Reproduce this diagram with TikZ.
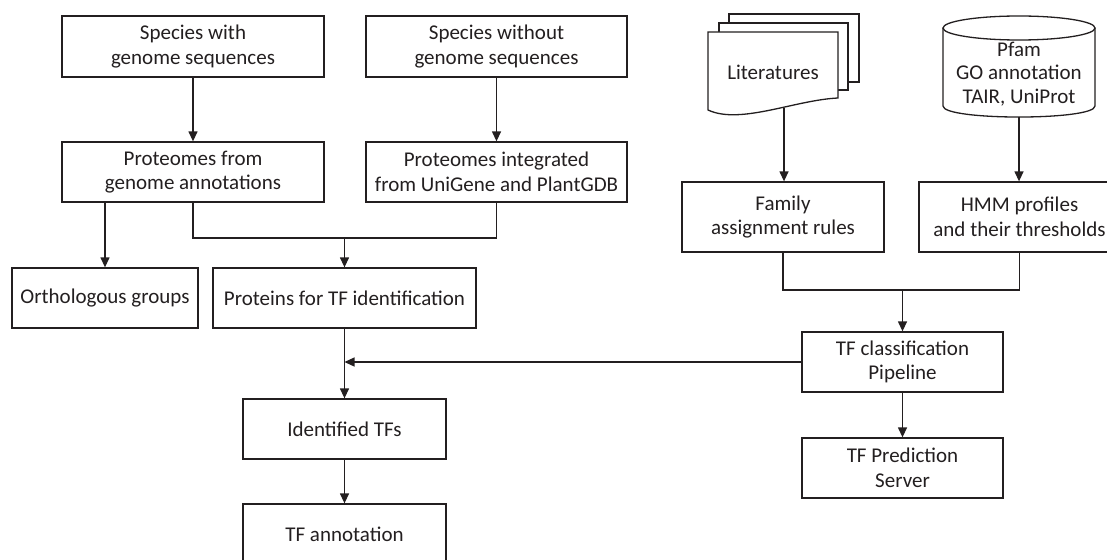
\documentclass[tikz,border=0pt]{standalone}
\usepackage{fontspec}
\setmainfont{Carlito}
\usepackage{xcolor}
\usetikzlibrary{arrows.meta}
\definecolor{ink}{HTML}{231F20}
\tikzset{
  box/.style={draw=ink, fill=white, line width=1.3pt, align=center, text=ink,
    inner sep=0pt, minimum height=60pt, font=\fontsize{21}{24.5}\selectfont},
  arr/.style={draw=ink, line width=1.3pt, -{Triangle[length=10pt,width=9pt]}},
  ln/.style={draw=ink, line width=1.3pt}
}
\begin{document}
\begin{tikzpicture}[x=1pt,y=-1pt]
\clip (0,0) rectangle (1107,559);

\node[box, minimum width=262pt, minimum height=61pt] (sw) at (193,46.5) {Species with\\genome sequences};
\node[box, minimum width=261pt, minimum height=61pt] (swo) at (496.5,46.5) {Species without\\genome sequences};
\node[box, minimum width=262pt] (pga) at (193,172) {Proteomes from\\genome annotations};
\node[box, minimum width=261pt] (pug) at (496.5,172) {Proteomes integrated\\from UniGene and PlantGDB};
\node[box, minimum width=186pt] (og) at (105,298) {Orthologous groups};
\node[box, minimum width=263pt] (ptf) at (344.5,298) {Proteins for TF identification};
\node[box, minimum width=203pt] (idt) at (344.5,429) {Identified TFs};
\node[box, minimum width=203pt] (tfa) at (344.5,534) {TF annotation};
\node[box, minimum width=202pt, minimum height=70pt] (far) at (783,217) {Family\\assignment rules};
\node[box, minimum width=201pt, minimum height=70pt] (hmm) at (1019.5,217) {HMM profiles\\and their thresholds};
\node[box, minimum width=201pt] (tfc) at (902.5,362) {TF classification\\Pipeline};
\node[box, minimum width=201pt] (tfp) at (902.5,468) {TF Prediction\\Server};

\draw[ln, fill=white] (729,14) rectangle (859,82);
\draw[ln, fill=white] (719,23) rectangle (848,90);
\draw[ln, fill=white] (708,32) -- (838,32) -- (838,98) .. controls (795,100) and (740,125) .. (708,110) -- cycle;
\node[text=ink, font=\fontsize{21}{24.5}\selectfont] (lit) at (773,72) {Literatures};
\coordinate (litb) at (784,108);

\draw[ln, fill=white] (943,28) -- (943,106) .. controls (943,120.7) and (1095,120.7) .. (1095,106) -- (1095,28);
\draw[ln, fill=white] (1019,28) ellipse [x radius=76, y radius=12];
\node[text=ink, align=center, font=\fontsize{21}{23.5}\selectfont] (db) at (1019,74) {Pfam\\GO annotation\\TAIR, UniProt};
\coordinate (dbb) at (1019,117);

\draw[arr] (sw) -- (pga);
\draw[arr] (swo) -- (pug);
\draw[arr] (og.north |- pga.south) -- (og.north);
\coordinate (j1) at (344.5,238);
\draw[ln] (pga.south) |- (j1) -| (pug.south);
\draw[arr] (j1) -- (ptf.north);
\draw[arr] (ptf) -- (idt);
\draw[arr] (idt) -- (tfa);

\draw[arr] (litb) -- (litb |- far.north);
\draw[arr] (dbb) -- (dbb |- hmm.north);
\coordinate (j2) at (902.5,290);
\draw[ln] (far.south) |- (j2) -| (hmm.south);
\draw[arr] (j2) -- (tfc.north);
\draw[arr] (tfc) -- (tfp);
\draw[arr] (tfc.west) -- (tfc.west -| ptf.south);
\end{tikzpicture}
\end{document}
